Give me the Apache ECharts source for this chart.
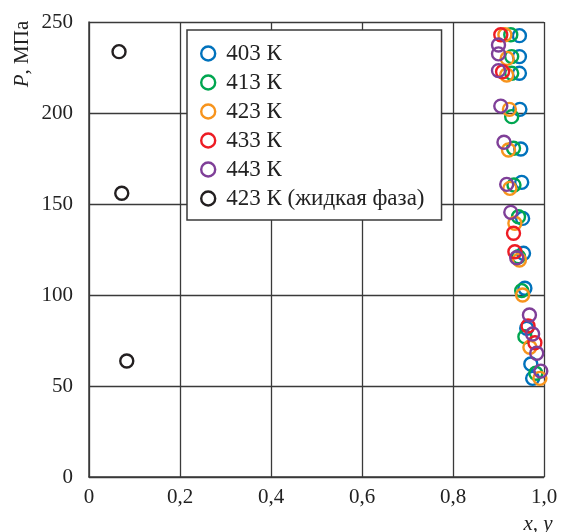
<!DOCTYPE html>
<html>
<head>
<meta charset="utf-8">
<script src="https://cdn.jsdelivr.net/npm/echarts@6/dist/echarts.min.js"></script>
<style>
  html, body { margin: 0; padding: 0; background: #fff; }
  #chart { width: 564px; height: 532px; }
</style>
</head>
<body>
<div id="chart"></div>
<script>
// Phase composition x, y (mole fraction) vs pressure P (MPa)
const seriesNames = ['403 К', '413 К', '423 К', '433 К', '443 К', '423 К (жидкая фаза)'];
const seriesColors = ['#0072BC', '#00A650', '#F7941D', '#ED1C24', '#7F3F98', '#231F20'];

const x403 = [0.946, 0.946, 0.946, 0.947, 0.949, 0.951, 0.953, 0.955, 0.958, 0.962, 0.971, 0.975];
const p403 = [242.5, 231.0, 221.8, 202.0, 180.2, 161.9, 142.1, 122.9, 103.7, 81.7, 62.1, 54.2];

const x413 = [0.927, 0.929, 0.929, 0.929, 0.933, 0.934, 0.944, 0.944, 0.951, 0.958, 0.982];
const p413 = [243.0, 231.0, 221.8, 198.0, 180.6, 160.4, 143.0, 121.0, 102.4, 77.1, 57.0];

const x423 = [0.914, 0.919, 0.918, 0.924, 0.922, 0.925, 0.936, 0.946, 0.953, 0.969, 0.991];
const p423 = [243.0, 230.0, 220.9, 202.0, 179.7, 158.6, 139.4, 119.2, 100.0, 71.3, 54.2];

const x433 = [0.905, 0.909, 0.933, 0.936, 0.965, 0.980];
const p433 = [243.0, 222.7, 133.9, 123.8, 83.0, 73.8];

const x443 = [0.900, 0.900, 0.900, 0.905, 0.912, 0.918, 0.927, 0.940, 0.968, 0.975, 0.984, 0.993];
const p443 = [237.4, 232.5, 223.3, 203.8, 183.9, 160.8, 145.4, 120.5, 89.0, 78.6, 68.0, 58.2];

const xLiquid = [0.066, 0.072, 0.083];
const pLiquid = [233.7, 155.9, 63.7];

const xs = [x403, x413, x423, x433, x443, xLiquid];
const ps = [p403, p413, p423, p433, p443, pLiquid];

const FONT = '"Liberation Serif", "Times New Roman", serif';
const LINE = '#3a3a3a';
const TEXT = '#222';

const pairs = (a, b) => a.map((v, i) => [v, b[i]]);

const series = seriesNames.map((name, k) => ({
  name,
  type: 'scatter',
  data: pairs(xs[k], ps[k]),
  symbol: 'circle',
  symbolSize: 13,
  itemStyle: { color: 'rgba(255,255,255,0)', borderColor: seriesColors[k], borderWidth: 2.4, opacity: 1 },
  emphasis: { disabled: true },
  z: 3 + k
}));

const chart = echarts.init(document.getElementById('chart'), null, { renderer: 'canvas' });
chart.setOption({
  animation: false,
  backgroundColor: '#fff',
  textStyle: { fontFamily: FONT },
  grid: { left: 89, right: 20, top: 22, bottom: 55, containLabel: false },
  xAxis: {
    type: 'value', min: 0, max: 1, interval: 0.2,
    axisLine: { show: true, onZero: false, lineStyle: { color: LINE, width: 1.5 } },
    axisTick: { show: false },
    splitLine: { show: true, lineStyle: { color: LINE, width: 1.3 } },
    axisLabel: {
      color: TEXT, fontFamily: FONT, fontSize: 21, margin: 10,
      formatter: v => (v === 0 ? '0' : v.toFixed(1).replace('.', ','))
    }
  },
  yAxis: {
    type: 'value', min: 0, max: 250, interval: 50,
    axisLine: { show: true, onZero: false, lineStyle: { color: LINE, width: 1.5 } },
    axisTick: { show: false },
    splitLine: { show: true, lineStyle: { color: LINE, width: 1.3 } },
    axisLabel: { color: TEXT, fontFamily: FONT, fontSize: 21, margin: 16 }
  },
  legend: {
    orient: 'vertical',
    left: 187, top: 30,
    padding: [12, 17, 10, 13],
    itemWidth: 14, itemHeight: 14, itemGap: 6,
    backgroundColor: '#fff',
    borderColor: LINE, borderWidth: 1.5,
    icon: 'circle',
    selectedMode: false,
    textStyle: { color: TEXT, fontFamily: FONT, fontSize: 23, padding: [0, 0, 0, 6] },
    data: seriesNames.map((name, k) => ({
      name,
      itemStyle: { color: 'rgba(255,255,255,0)', borderColor: seriesColors[k], borderWidth: 2.4 }
    })),
    z: 10
  },
  graphic: [
    {
      type: 'text', x: 22, y: 54, rotation: Math.PI / 2,
      style: {
        text: '{i|P}, МПа', fill: TEXT, font: '21px ' + FONT,
        align: 'center', verticalAlign: 'middle',
        rich: { i: { fontStyle: 'italic', fontFamily: FONT, fontSize: 21, fill: TEXT } }
      }
    },
    {
      type: 'text', x: 538, y: 524,
      style: {
        text: 'x, y', fill: TEXT, font: 'italic 21px ' + FONT,
        align: 'center', verticalAlign: 'middle'
      }
    }
  ],
  series
});
</script>
</body>
</html>
